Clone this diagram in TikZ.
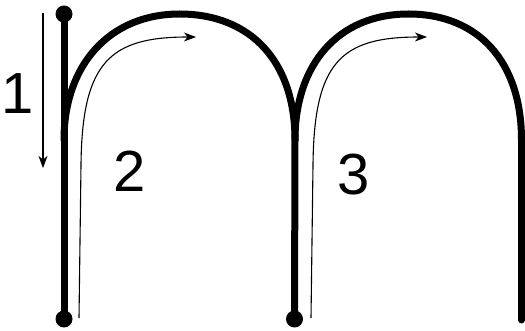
\documentclass[tikz,border=0pt]{standalone}
\usepackage{fontspec}
\setmainfont{Liberation Sans}
\usetikzlibrary{arrows.meta}
\begin{document}
\begin{tikzpicture}[x=1pt,y=-1pt,
  stroke/.style={line width=7pt,line cap=round,line join=round},
  dotmark/.style={circle,fill=black,inner sep=0pt,minimum size=17pt},
  guide/.style={line width=1.1pt,-{Stealth[length=12pt,width=9pt,inset=3.5pt]}},
  digit/.style={inner sep=0pt,font=\fontsize{58}{60}\selectfont}]
\useasboundingbox (0,0) rectangle (525,331);
% dots
\node[dotmark] (t1) at (64,14) {};
\node[dotmark] (b1) at (64,319) {};
\node[dotmark] (b2) at (294.5,319) {};
% stroke 1
\draw[stroke] (t1.center) -- (b1.center);
% arch 1
\draw[stroke] (64,140) .. controls (64,64.4) and (110.2,14) .. (179.5,14)
  .. controls (251.1,14) and (295,61.9) .. (295,140) -- (b2.center);
% arch 2
\draw[stroke] (295,140) .. controls (295,64.4) and (338.2,14) .. (408.5,14)
  .. controls (478.6,14) and (521.5,61.9) .. (521.5,140) -- (521.5,320);
% guide arrows
\coordinate (a1s) at (43,13);
\coordinate (a1e) at (43,168);
\draw[guide] (a1s) -- (a1e);
\coordinate (a2s) at (79,318);
\coordinate (a2e) at (196,37);
\draw[guide] (a2s) -- (81,165) .. controls (82,62) and (110,37) .. (a2e);
\coordinate (a3s) at (311,318);
\coordinate (a3e) at (427,37);
\draw[guide] (a3s) -- (313,165) .. controls (314,62) and (341,37) .. (a3e);
% labels
\node[digit] (n1) at (17.5,94) {1};
\node[digit] (n2) at (130,171) {2};
\node[digit] (n3) at (354,174.5) {3};
\end{tikzpicture}
\end{document}
